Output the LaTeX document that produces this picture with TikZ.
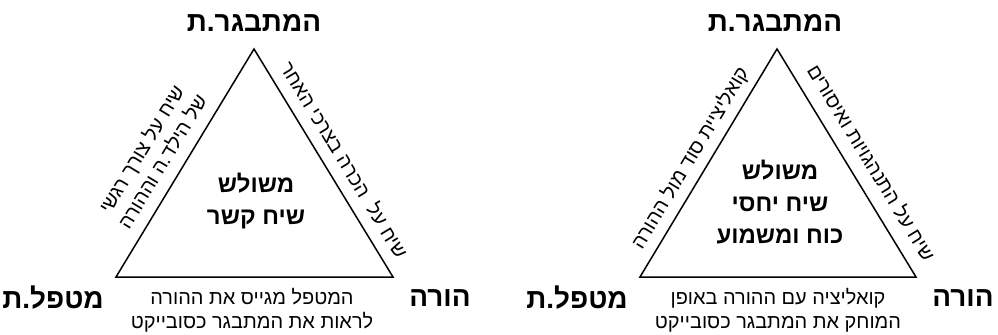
\documentclass[tikz,border=0pt]{standalone}
\usepackage{fontspec}
\TeXXeTstate=1
\newfontfamily\heb[Script=Hebrew, BoldFont={Liberation Sans Bold}]{Liberation Sans}
\usetikzlibrary{calc}
\newcommand\hebline[1]{\beginR #1\endR}
\tikzset{
  edgeline/.style={line width=1.5bp, line join=miter},
  cornerlabel/.style={font=\heb\bfseries\fontsize{28}{32}\selectfont, inner sep=0pt},
  midtext/.style={font=\heb\bfseries\fontsize{24}{32}\selectfont, align=center, inner sep=0pt},
  sidetext/.style={font=\heb\fontsize{20}{24.5}\selectfont, align=center, inner sep=0pt},
}
\begin{document}
\begin{tikzpicture}[x=1bp, y=1bp]
\useasboundingbox (0,0) rectangle (998,334);
% ---------- left triangle ----------
\coordinate (A1) at (254,285);
\coordinate (BL1) at (116,57);
\coordinate (BR1) at (393,57);
\draw[edgeline] (A1) -- (BR1) -- (BL1) -- cycle;
\node[cornerlabel] (top1) at (254,311) {\hebline{המתבגר.ת}};
\node[cornerlabel] (ther1) at (53,36) {\hebline{מטפל.ת}};
\node[cornerlabel] (par1) at (440,36) {\hebline{הורה}};
\node[midtext] (mid1) at (256,133) {\hebline{משולש}\\\hebline{שיח קשר}};
\node[sidetext] (bot1) at (252,24) {\hebline{המטפל מגייס את ההורה}\\\hebline{לראות את המתבגר כסובייקט}};
\node[sidetext, rotate=58.8] (left1) at ($(BL1)!0.46!(A1)!33bp!90:(A1)$) {\hebline{שיח על צורך רגשי}\\\hebline{של הילד.ה וההורה}};
\node[sidetext, rotate=-58.7] (right1) at ($(A1)!0.53!(BR1)!20bp!90:(BR1)$) {\hebline{שיח על\ \ הכרה בצרכי האחר}};
% ---------- right triangle ----------
\coordinate (A2) at (777,285);
\coordinate (BL2) at (640,57);
\coordinate (BR2) at (916,57);
\draw[edgeline] (A2) -- (BR2) -- (BL2) -- cycle;
\node[cornerlabel] (top2) at (775,311) {\hebline{המתבגר.ת}};
\node[cornerlabel] (ther2) at (577,36) {\hebline{מטפל.ת}};
\node[cornerlabel] (par2) at (963,36) {\hebline{הורה}};
\node[midtext] (mid2) at (780,132) {\hebline{משולש}\\\hebline{שיח יחסי}\\\hebline{כוח ומשמוע}};
\node[sidetext] (bot2) at (778,24) {\hebline{קואליציה עם ההורה באופן}\\\hebline{המוחק את המתבגר כסובייקט}};
\node[sidetext, rotate=58.9] (left2) at ($(BL2)!0.48!(A2)!18bp!90:(A2)$) {\hebline{קואליציית סוד מול ההורה}};
\node[sidetext, rotate=-58.6] (right2) at ($(A2)!0.547!(BR2)!22bp!90:(BR2)$) {\hebline{שיח על התנהגויות ואיסורים}};
\end{tikzpicture}
\end{document}
